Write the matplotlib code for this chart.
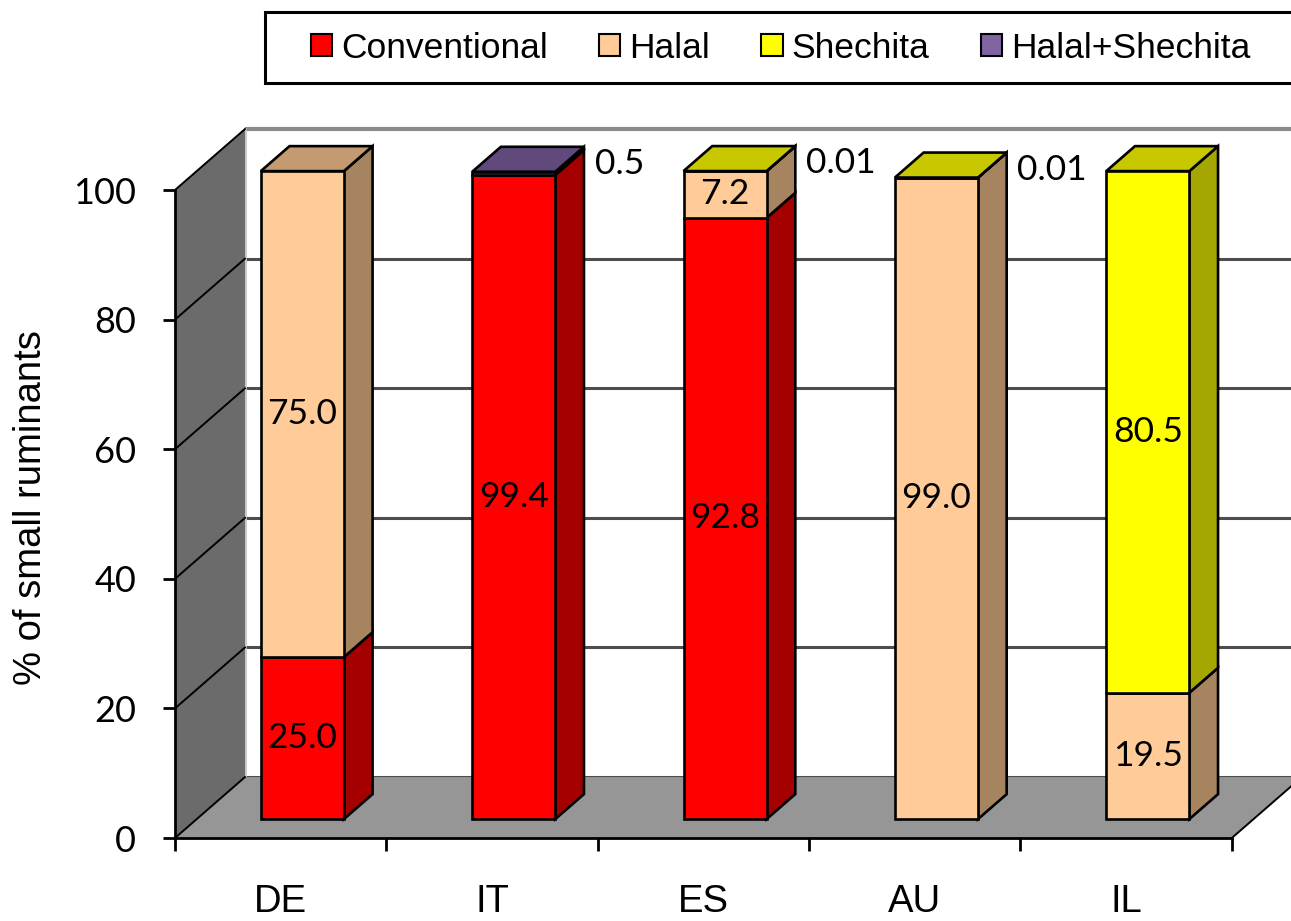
import matplotlib
matplotlib.use("Agg")
import matplotlib.pyplot as plt
from matplotlib.patches import Polygon, Rectangle, Patch

# Share of small ruminants by slaughter method
countries = ["DE", "IT", "ES", "AU", "IL"]
series_names = ["Conventional", "Halal", "Shechita", "Halal+Shechita"]
conventional = [25.0, 99.4, 92.8, 0.0, 0.0]
halal = [75.0, 0.0, 7.2, 99.0, 19.5]
shechita = [0.0, 0.0, 0.01, 0.01, 80.5]
halal_shechita = [0.0, 0.5, 0.0, 0.0, 0.0]
yticks = [0, 20, 40, 60, 80, 100]

# front, side, top colours per series
colors = {
    "Conventional": ("#FF0000", "#A50000", "#C80000"),
    "Halal": ("#FFCC99", "#A6845F", "#C49B70"),
    "Shechita": ("#FFFF00", "#A6A600", "#C8C800"),
    "Halal+Shechita": ("#8064A2", "#4D3C62", "#604A7B"),
}

ARIAL = "Liberation Sans"
CALIBRI = "Lato"

# fake 3d geometry (depth vector in data units)
DX, DY = 0.331, 9.4
F0, FD = 0.31, 0.41      # bar front depth fraction, bar depth fraction
W = 0.393                # bar width
X0, X1 = -0.5, 4.5

fig = plt.figure(figsize=(12.91, 9.21), dpi=100)
ax = fig.add_axes([175 / 1291, 83 / 921, 1116 / 1291, 712.8 / 921])
ax.set_xlim(X0, 4.78)
ax.set_ylim(0, 110)
ax.set_facecolor("none")

# back wall + gridlines
ax.add_patch(Rectangle((X0 + DX, DY), X1 - X0 + 0.2, 100, facecolor="white",
                       edgecolor="none", zorder=1, clip_on=False))
for g in yticks:
    c, lw = ("#8A8A8A", 3.0) if g == 100 else ("#4D4D4D", 2.2)
    ax.plot([X0 + DX, X1 + DX + 0.2], [g + DY, g + DY], color=c, lw=lw,
            zorder=2, clip_on=False, solid_capstyle="butt")
ax.plot([X0 + DX, X0 + DX], [DY, 100 + DY], color="#C8C8C8", lw=2, zorder=2)

# left wall
ax.add_patch(Polygon([(X0, 0), (X0, 100), (X0 + DX, 100 + DY), (X0 + DX, DY)],
                     closed=True, facecolor="#6B6B6B", edgecolor="none", zorder=3))
for g in yticks:
    ax.plot([X0, X0 + DX], [g, g + DY], color="black", lw=1.4, zorder=4)

# floor
ax.add_patch(Polygon([(X0, 0), (X1, 0), (X1 + DX, DY), (X0 + DX, DY)],
                     closed=True, facecolor="#969696", edgecolor="none", zorder=3,
                     clip_on=False))
ax.plot([X1, X1 + DX], [0, DY], color="black", lw=1.4, zorder=4, clip_on=False)


def draw_box(xl, y0, y1, cols, top):
    xr = xl + W
    ddx, ddy = FD * DX, FD * DY
    ax.add_patch(Rectangle((xl, y0), W, y1 - y0, facecolor=cols[0],
                           edgecolor="black", lw=1.9, zorder=6))
    ax.add_patch(Polygon([(xr, y0), (xr + ddx, y0 + ddy), (xr + ddx, y1 + ddy), (xr, y1)],
                         closed=True, facecolor=cols[1], edgecolor="black", lw=1.9, zorder=5))
    if top:
        ax.add_patch(Polygon([(xl, y1), (xr, y1), (xr + ddx, y1 + ddy), (xl + ddx, y1 + ddy)],
                             closed=True, facecolor=cols[2], edgecolor="black", lw=1.9, zorder=5))


values = [conventional, halal, shechita, halal_shechita]
for i, c in enumerate(countries):
    segs = [(name, vals[i]) for name, vals in zip(series_names, values) if vals[i] > 0]
    total = sum(v for _, v in segs)
    xl = i + F0 * DX - W / 2
    base = 0.0
    for k, (name, v) in enumerate(segs):
        y0 = base + F0 * DY
        y1 = base + v + F0 * DY
        draw_box(xl, y0, y1, colors[name], k == len(segs) - 1)
        if v >= 1:
            ax.text(xl + W / 2, (y0 + y1) / 2, f"{v:.1f}", ha="center", va="center",
                    fontsize=25.5, family=CALIBRI, zorder=8)
        else:
            ax.text(xl + W + FD * DX + 0.05, total + F0 * DY + 1.2, f"{v:g}",
                    ha="left", va="center", fontsize=25.5, family=CALIBRI, zorder=8)
        base += v

# axes styling
for s in ["top", "right"]:
    ax.spines[s].set_visible(False)
ax.spines["left"].set_bounds(0, 100)
ax.spines["bottom"].set_bounds(X0, X1)
for s in ["left", "bottom"]:
    ax.spines[s].set_linewidth(2)
    ax.spines[s].set_zorder(7)

ax.set_yticks(yticks)
ax.set_yticklabels([str(t) for t in yticks], family=CALIBRI, fontsize=26)
ax.tick_params(axis="y", length=9, width=2, pad=19)

ax.set_xticks(range(len(countries)))
ax.set_xticklabels(countries, family=ARIAL, fontsize=27.5)
ax.set_xticks([X0 + k for k in range(6)], minor=True)
ax.tick_params(axis="x", which="major", length=0, pad=33)
ax.tick_params(axis="x", which="minor", length=9.5, width=2)

ax.set_ylabel("% of small ruminants", family=ARIAL, fontsize=27.5)
ax.yaxis.set_label_coords(-0.113, 0.464)

# legend
fig.patches.append(Rectangle((265 / 1291, 1 - 83 / 921), 1.0, 71 / 921,
                             transform=fig.transFigure, facecolor="white",
                             edgecolor="black", lw=2.2, zorder=0))
handles = [Patch(facecolor=colors[n][0], edgecolor="black", lw=1.5) for n in series_names]
fig.legend(handles, series_names, loc="center left", bbox_to_anchor=(311 / 1291, 1 - 48 / 921),
           ncol=4, frameon=False, prop={"family": ARIAL, "size": 25.5},
           handlelength=0.6, handleheight=0.6, handletextpad=0.25,
           columnspacing=1.45, borderpad=0, borderaxespad=0)

fig.savefig("out.png", dpi=100)
